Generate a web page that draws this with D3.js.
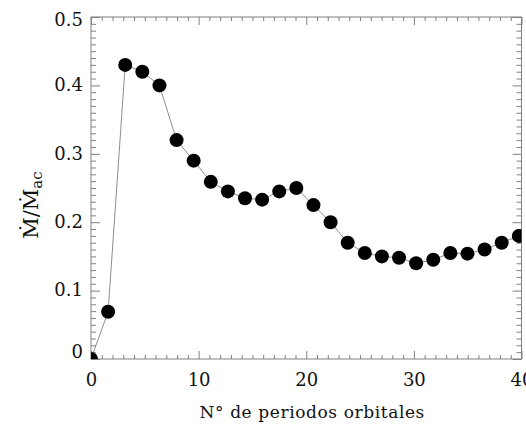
<!DOCTYPE html>
<html>
<head>
<meta charset="utf-8">
<script src="https://cdn.jsdelivr.net/npm/d3@7"></script>
<style>
  body { margin: 0; background: #fff; }
  text { font-family: "DejaVu Serif", serif; fill: #111; }
</style>
</head>
<body>
<div id="chart"></div>
<script>
// orbital periods (x) and accretion ratio (y)
const periods = [0, 1.59, 3.18, 4.77, 6.36, 7.95, 9.54, 11.13, 12.72, 14.31, 15.9, 17.49, 19.08,
  20.67, 22.26, 23.85, 25.44, 27.03, 28.62, 30.21, 31.8, 33.39, 34.98, 36.57, 38.16, 39.75];
const mdotRatio = [0.0, 0.069, 0.430, 0.420, 0.400, 0.320, 0.290, 0.259, 0.245, 0.235, 0.233, 0.245, 0.250,
  0.225, 0.200, 0.170, 0.155, 0.150, 0.148, 0.140, 0.145, 0.155, 0.154, 0.160, 0.170, 0.180];
const xTicks = [0, 10, 20, 30, 40];
const yTicks = [0, 0.1, 0.2, 0.3, 0.4, 0.5];

const width = 526;
const height = 424;
const margin = { top: 17, right: 4.5, bottom: 65, left: 91 };

const svg = d3.select('#chart')
  .append('svg')
  .attr('width', width)
  .attr('height', height);

const x = d3.scaleLinear().domain([0, 40]).range([margin.left, width - margin.right]);
const y = d3.scaleLinear().domain([0, 0.5]).range([height - margin.bottom, margin.top]);

const frameColor = '#808080';

svg.append('clipPath').attr('id', 'plot-clip')
  .append('rect')
  .attr('x', x(0)).attr('y', y(0.5))
  .attr('width', x(40) - x(0)).attr('height', y(0) - y(0.5));

// minor + major ticks, pointing inward on all four sides
const xMinor = d3.range(0, 41, 1).filter(d => d % 10 !== 0);
const yMinor = d3.range(0, 51, 1).filter(d => d % 10 !== 0).map(d => d / 100);

function tickAxis(axisFn, scale, values, size, transform) {
  const g = svg.append('g')
    .attr('transform', transform)
    .call(axisFn(scale).tickValues(values).tickSize(size).tickFormat('').tickSizeOuter(0));
  g.select('.domain').remove();
  g.selectAll('line').attr('stroke', frameColor);
  return g;
}

tickAxis(d3.axisTop, x, xMinor, 4, `translate(0,${y(0)})`);
tickAxis(d3.axisTop, x, xTicks, 8, `translate(0,${y(0)})`);
tickAxis(d3.axisBottom, x, xMinor, 4, `translate(0,${y(0.5)})`);
tickAxis(d3.axisBottom, x, xTicks, 8, `translate(0,${y(0.5)})`);
tickAxis(d3.axisRight, y, yMinor, 5, `translate(${x(0)},0)`);
tickAxis(d3.axisRight, y, yTicks, 9, `translate(${x(0)},0)`);
tickAxis(d3.axisLeft, y, yMinor, 5, `translate(${x(40)},0)`);
tickAxis(d3.axisLeft, y, yTicks, 9, `translate(${x(40)},0)`);

// frame
svg.append('rect')
  .attr('x', x(0)).attr('y', y(0.5))
  .attr('width', x(40) - x(0)).attr('height', y(0) - y(0.5))
  .attr('fill', 'none')
  .attr('stroke', frameColor)
  .attr('stroke-width', 1);

// tick labels
const xAxis = svg.append('g')
  .attr('transform', `translate(0,${y(0)})`)
  .call(d3.axisBottom(x).tickValues(xTicks).tickSize(0).tickPadding(14).tickFormat(d3.format('d')));
xAxis.select('.domain').remove();
xAxis.selectAll('text').attr('font-size', 18).attr('font-family', '"DejaVu Serif", serif').attr('fill', '#111');

const yAxis = svg.append('g')
  .attr('transform', `translate(${x(0)},0)`)
  .call(d3.axisLeft(y).tickValues(yTicks).tickSize(0).tickPadding(8).tickFormat(d => d === 0 ? '0' : d3.format('.1f')(d)));
yAxis.select('.domain').remove();
yAxis.selectAll('text').attr('font-size', 18).attr('font-family', '"DejaVu Serif", serif').attr('fill', '#111');
// the end labels sit slightly inside the frame, as in the original
yAxis.selectAll('.tick')
  .attr('transform', d => `translate(0,${Math.min(Math.max(y(d), y(0.5) + 3), y(0) - 7)})`);

// connecting line + points
const points = periods.map((p, i) => ({ p: p, v: mdotRatio[i] }));

const plot = svg.append('g').attr('clip-path', 'url(#plot-clip)');

plot.append('path')
  .datum(points)
  .attr('fill', 'none')
  .attr('stroke', '#808080')
  .attr('stroke-width', 0.9)
  .attr('d', d3.line().x(d => x(d.p)).y(d => y(d.v)));

plot.selectAll('circle')
  .data(points)
  .enter()
  .append('circle')
  .attr('cx', d => x(d.p))
  .attr('cy', d => y(d.v))
  .attr('r', 7)
  .attr('fill', '#000');

// axis titles
svg.append('text')
  .attr('x', (x(0) + x(40)) / 2 + 6)
  .attr('y', 418)
  .attr('text-anchor', 'middle')
  .attr('font-size', 17)
  .attr('letter-spacing', 0.6)
  .text('N° de periodos orbitales');

const yTitle = svg.append('text')
  .attr('transform', 'translate(38,205) rotate(-90)')
  .attr('text-anchor', 'middle')
  .attr('font-size', 21);
yTitle.append('tspan').text('Ṁ/Ṁ');
yTitle.append('tspan').attr('font-size', 15).attr('dy', 4).text('ac');
</script>
</body>
</html>
